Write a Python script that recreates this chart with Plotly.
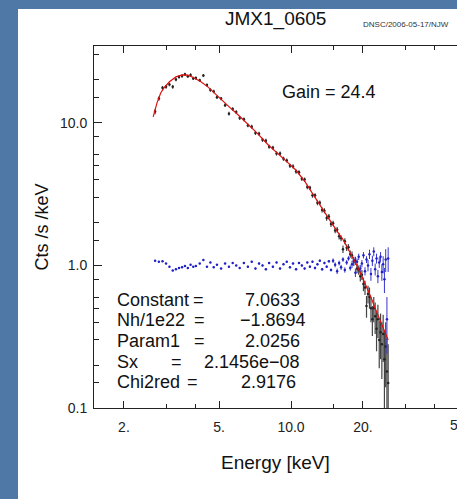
import plotly.graph_objects as go

# ---------------- data ----------------
energy = [2.7, 2.8, 2.9, 3.0, 3.1, 3.2, 3.3, 3.4, 3.5, 3.6, 3.7, 3.8, 3.9, 4.0,
          4.15, 4.3, 4.45, 4.6, 4.75, 4.9, 5.1, 5.3, 5.5, 5.7, 5.9, 6.1,
          6.35, 6.6, 6.85, 7.1, 7.35, 7.6, 7.85, 8.1, 8.4, 8.7,
          9.0, 9.3, 9.6, 9.9, 10.2, 10.5, 10.8, 11.1, 11.4, 11.7,
          12.0, 12.3, 12.6, 12.9, 13.2, 13.5, 13.8, 14.1, 14.4, 14.7,
          15.0, 15.3, 15.6, 15.9, 16.2, 16.5, 16.8, 17.1, 17.4, 17.7,
          18.0, 18.3, 18.6, 18.9, 19.2, 19.5, 19.8, 20.1, 20.4, 20.7,
          21.0, 21.3, 21.6, 21.9, 22.2, 22.5, 22.8, 23.1, 23.4, 23.7,
          24.0, 24.3, 24.6, 24.9, 25.2, 25.5]

counts = [12.0, 14.8, 17.6, 17.9, 18.6, 17.9, 20.1, 21.0, 21.3, 21.9, 21.2, 21.7, 20.5, 20.6,
          19.9, 21.5, 18.4, 17.0, 16.6, 15.1, 14.8, 13.3, 11.6, 12.5, 11.9, 10.8,
          10.6, 9.6, 9.4, 8.5, 8.4, 7.6, 7.5, 6.8, 6.7, 6.1,
          6.1, 5.6, 5.45, 5.0, 4.95, 4.55, 4.5, 4.05, 4.0, 3.55,
          3.5, 3.1, 3.1, 2.75, 2.75, 2.45, 2.42, 2.15, 2.2, 1.95,
          1.98, 1.76, 1.78, 1.6, 1.55, 1.3, 1.48, 1.33, 1.34, 1.2,
          1.18, 1.06, 1.08, 0.95, 0.93, 0.84, 0.86, 0.74, 0.70, 0.52,
          0.63, 0.60, 0.50, 0.42, 0.50, 0.44, 0.36, 0.42, 0.30, 0.34,
          0.28, 0.33, 0.22, 0.27, 0.18, 0.15]

counts_err = [0.5, 0.5, 0.55, 0.55, 0.55, 0.55, 0.55, 0.55, 0.55, 0.55, 0.55, 0.55, 0.55, 0.55,
              0.5, 0.5, 0.45, 0.45, 0.45, 0.4, 0.4, 0.4, 0.35, 0.35, 0.35, 0.35,
              0.32, 0.3, 0.3, 0.28, 0.27, 0.25, 0.25, 0.23, 0.22, 0.21,
              0.2, 0.19, 0.18, 0.17, 0.17, 0.16, 0.15, 0.14, 0.14, 0.13,
              0.12, 0.12, 0.11, 0.11, 0.1, 0.1, 0.1, 0.09, 0.09, 0.09,
              0.08, 0.08, 0.08, 0.08, 0.07, 0.08, 0.07, 0.07, 0.07, 0.07,
              0.07, 0.07, 0.07, 0.07, 0.07, 0.07, 0.07, 0.08, 0.08, 0.09,
              0.09, 0.1, 0.1, 0.1, 0.1, 0.11, 0.11, 0.11, 0.11, 0.12,
              0.12, 0.12, 0.13, 0.13, 0.13, 0.13]

ratio = [1.08, 1.06, 1.07, 1.03, 0.98, 0.92, 0.94, 0.96, 0.97, 0.99, 0.96, 1.01, 0.98, 0.99,
         1.03, 1.09, 0.98, 1.05, 0.97, 1.01, 0.95, 1.03, 0.98, 1.04, 1.0, 0.96,
         1.04, 0.98, 1.06, 0.95, 1.03, 1.0, 0.94, 1.04, 0.98, 1.05,
         0.95, 1.02, 1.06, 0.97, 1.03, 0.94, 1.04, 1.0, 0.95, 1.05,
         0.98, 1.06, 0.96, 1.02, 1.08, 0.94, 1.04, 0.98, 1.07, 0.93,
         1.08, 1.01, 0.91, 1.04, 0.97, 1.1, 0.93, 1.05, 1.12, 0.96,
         1.02, 1.09, 0.89, 1.06, 1.15, 0.95, 1.03, 1.18, 0.91, 1.1,
         1.0, 1.2, 0.87, 1.08, 1.25, 0.94, 1.12, 0.84, 1.05, 1.15,
         0.9, 1.02, 0.8, 1.1, 0.42, 1.12]

ratio_err = [0.01, 0.01, 0.01, 0.01, 0.01, 0.01, 0.01, 0.01, 0.01, 0.01, 0.01, 0.01, 0.01, 0.01,
             0.01, 0.01, 0.01, 0.01, 0.01, 0.01, 0.01, 0.01, 0.01, 0.01, 0.01, 0.01,
             0.015, 0.015, 0.015, 0.015, 0.015, 0.015, 0.015, 0.015, 0.015, 0.015,
             0.015, 0.015, 0.015, 0.015, 0.015, 0.015, 0.015, 0.015, 0.015, 0.015,
             0.02, 0.02, 0.02, 0.02, 0.02, 0.02, 0.02, 0.02, 0.02, 0.02,
             0.04, 0.04, 0.04, 0.04, 0.04, 0.04, 0.04, 0.04, 0.04, 0.04,
             0.06, 0.06, 0.06, 0.06, 0.06, 0.06, 0.06, 0.06, 0.06, 0.06,
             0.09, 0.09, 0.09, 0.09, 0.09, 0.09, 0.09, 0.09, 0.09, 0.09,
             0.12, 0.14, 0.16, 0.2, 0.18, 0.22]

model_energy = [2.65, 2.75, 2.85, 2.95, 3.1, 3.3, 3.5, 3.7, 3.9, 4.2, 4.5, 5.0, 5.5, 6.0,
                6.6, 7.2, 8.0, 8.8, 9.6, 10.5, 11.5, 12.5, 13.5, 14.5, 15.5, 16.5,
                17.5, 18.5, 19.5, 20.5, 21.5, 22.5, 23.5, 24.5, 25.5]
model_rate = [11.0, 13.8, 16.2, 17.7, 19.4, 21.0, 21.7, 21.6, 20.8, 19.4, 17.8, 15.0, 13.0, 11.4,
              9.8, 8.5, 7.05, 6.15, 5.35, 4.65, 3.82, 3.06, 2.5, 2.09, 1.76, 1.52,
              1.28, 1.07, 0.89, 0.74, 0.61, 0.50, 0.415, 0.35, 0.30]

x_tickvals = [2, 5, 10, 20, 50]
x_ticktext = ["2.", "5.", "10.0", "20.", "50"]
x_minor = [3, 4, 15, 30, 40]
y_tickvals = [0.1, 1, 10]
y_ticktext = ["0.1", "1.0", "10.0"]
y_minor = [0.15, 0.2, 0.3, 0.4, 0.5, 0.6, 0.8, 1.5, 2, 3, 4, 5, 6, 8, 15, 20, 30]

title_text = "JMX1_0605"
stamp_text = "DNSC/2006-05-17/NJW"
gain_text = "Gain = 24.4"
param_names = ["Constant", "Nh/1e22", "Param1", "Sx", "Chi2red"]
param_values = ["7.0633", "\u22121.8694", "2.0256", "2.1456e\u221208", "2.9176"]

# ---------------- layout geometry ----------------
W, H = 457, 499
L, R, T, B = 94, 0, 46, 91
PW, PH = W - L - R, H - T - B


def px(x):
    return (x - L) / PW


def py(y):
    return (H - B - y) / PH


FONT = "Liberation Sans, Arial, Helvetica, sans-serif"

fig = go.Figure()

fig.add_trace(go.Scatter(
    x=energy, y=counts, mode="markers",
    marker=dict(color="#222222", size=2.5),
    error_y=dict(type="data", array=counts_err, color="#444444", thickness=1.2, width=0),
    showlegend=False,
))
fig.add_trace(go.Scatter(
    x=energy, y=ratio, mode="markers",
    marker=dict(color="#2020c8", size=2.5),
    error_y=dict(type="data", array=ratio_err, color="#3535d0", thickness=1, width=0),
    showlegend=False,
))
fig.add_trace(go.Scatter(
    x=model_energy, y=model_rate, mode="lines",
    line=dict(color="#e01010", width=1.2),
    showlegend=False,
))

ann = []
ann.append(dict(text=title_text, x=px(275.5), y=py(19), xref="paper", yref="paper",
                showarrow=False, xanchor="center", yanchor="middle",
                font=dict(family=FONT, size=19, color="#111")))
ann.append(dict(text=stamp_text, x=px(361), y=py(25), xref="paper", yref="paper",
                showarrow=False, xanchor="left", yanchor="middle",
                font=dict(family=FONT, size=8, color="#333")))
ann.append(dict(text=gain_text, x=px(280), y=py(92), xref="paper", yref="paper",
                showarrow=False, xanchor="left", yanchor="middle",
                font=dict(family=FONT, size=18, color="#111")))
ann.append(dict(text="Cts /s /keV", x=px(41.5), y=py(227), xref="paper", yref="paper",
                showarrow=False, xanchor="center", yanchor="middle", textangle=-90,
                font=dict(family=FONT, size=18, color="#111")))
ann.append(dict(text="Energy [keV]", x=px(275), y=py(463), xref="paper", yref="paper",
                showarrow=False, xanchor="center", yanchor="middle",
                font=dict(family=FONT, size=19, color="#111")))
# the "50" tick label is cut by the right edge in the reference as well
ann.append(dict(text="50", x=px(458), y=py(425), xref="paper", yref="paper",
                showarrow=False, xanchor="center", yanchor="middle",
                font=dict(family=FONT, size=14, color="#222")))

row_y = [299.5, 320, 340.5, 361.5, 382]
eq_x = [198.5, 199, 199, 176, 192.5]
val_right = [302, 308, 302, 302, 298]
for name, val, yy, ex, vr in zip(param_names, param_values, row_y, eq_x, val_right):
    for txt, xx, anc in ((name, 115, "left"), ("=", ex, "center"), (val, vr, "right")):
        ann.append(dict(text=txt, x=px(xx), y=py(yy), xref="paper", yref="paper",
                        showarrow=False, xanchor=anc, yanchor="middle",
                        font=dict(family=FONT, size=18, color="#111")))

fig.update_layout(
    width=W, height=H,
    margin=dict(l=L, r=R, t=T, b=B, pad=0),
    paper_bgcolor="#5078a6",
    plot_bgcolor="white",
    annotations=ann,
    shapes=[dict(type="rect", xref="paper", yref="paper", layer="below",
                 x0=px(18), x1=px(470), y0=py(9), y1=py(520),
                 fillcolor="white", line=dict(width=0))],
    xaxis=dict(type="log", range=[0.1757, 1.6946], showgrid=False, zeroline=False,
               showline=True, linecolor="#222", linewidth=1, mirror="allticks",
               tickvals=x_tickvals, ticktext=x_ticktext, ticks="inside", ticklen=7,
               tickcolor="#222", tickwidth=1, ticklabelstandoff=6,
               tickfont=dict(family=FONT, size=14, color="#222"),
               minor=dict(tickvals=x_minor, ticks="inside", ticklen=4, tickcolor="#222",
                          showgrid=False)),
    yaxis=dict(type="log", range=[-1.0, 1.539], showgrid=False, zeroline=False,
               showline=True, linecolor="#222", linewidth=1, mirror=False,
               tickvals=y_tickvals, ticktext=y_ticktext, ticks="inside", ticklen=8,
               tickcolor="#222", tickwidth=1, ticklabelstandoff=3,
               tickfont=dict(family=FONT, size=14, color="#222"),
               minor=dict(tickvals=y_minor, ticks="inside", ticklen=5, tickcolor="#222",
                          showgrid=False)),
)

fig.write_html("out.html")
